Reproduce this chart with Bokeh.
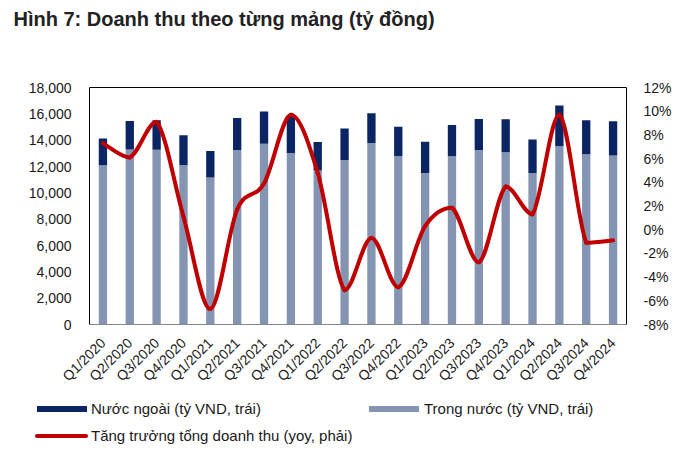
from bokeh.plotting import figure
from bokeh.layouts import column
from bokeh.models import (Range1d, LinearAxis, FixedTicker, Div,
                          NumeralTickFormatter, CustomJSTickFormatter)
from bokeh.embed import file_html
from bokeh.resources import INLINE
import math

categories = ["Q1/2020", "Q2/2020", "Q3/2020", "Q4/2020", "Q1/2021", "Q2/2021", "Q3/2021",
              "Q4/2021", "Q1/2022", "Q2/2022", "Q3/2022", "Q4/2022", "Q1/2023", "Q2/2023",
              "Q3/2023", "Q4/2023", "Q1/2024", "Q2/2024", "Q3/2024", "Q4/2024"]
domestic = [12100, 13300, 13280, 12120, 11170, 13250, 13730, 13030, 11700, 12500,
            13780, 12800, 11500, 12780, 13250, 13080, 11500, 13530, 12930, 12830]
total = [14130, 15460, 15510, 14380, 13180, 15690, 16170, 15900, 13860, 14880,
         16040, 15010, 13880, 15160, 15610, 15590, 14060, 16640, 15510, 15440]
growth = [7.3, 6.1, 9.1, 1.1, -6.7, 1.7, 3.9, 9.7, 4.8, -5.1,
          -0.7, -4.85, 0.3, 1.85, -2.75, 3.65, 1.3, 9.7, -1.1, -0.9]

left_ticks = list(range(0, 18001, 2000))
right_ticks = list(range(-8, 13, 2))
legend_labels = ["Nước ngoài (tỷ VND, trái)", "Trong nước (tỷ VND, trái)",
                 "Tăng trưởng tổng doanh thu (yoy, phải)"]

FONT = "Liberation Sans"
NAVY = "#0B2463"
SLATE = "#8494B3"
RED = "#C00000"
TXT = "#1a1a1a"

xs = list(range(1, len(categories) + 1))

W = 680
TH = 40            # title strip height
FRAME_LEFT = 89    # page x of the plot frame's left edge

# ---- title strip ----
t = figure(width=W, height=TH, output_backend="svg", toolbar_location=None,
           x_axis_type=None, y_axis_type=None, min_border=0,
           x_range=Range1d(0, 1), y_range=Range1d(0, 1),
           title="Hình 7: Doanh thu theo từng mảng (tỷ đồng)")
t.outline_line_color = None
t.grid.visible = False
t.title.text_font = FONT
t.title.text_font_size = "20px"
t.title.text_font_style = "bold"
t.title.text_color = "#222222"
t.title.offset = 13 - FRAME_LEFT
t.title.standoff = 10

# ---- main chart ----
H = 352
p = figure(width=W, height=H, output_backend="svg", toolbar_location=None,
           x_range=Range1d(0.5, len(categories) + 0.5),
           y_range=Range1d(0, 18000),
           min_border_left=FRAME_LEFT, min_border_right=W - 626, min_border_top=87 - TH,
           min_border_bottom=H - (326 - TH), title=None)

p.extra_y_ranges = {"pct": Range1d(-8, 12)}

p.grid.visible = False
p.outline_line_color = "black"
p.outline_line_width = 1
p.background_fill_color = "white"
p.border_fill_color = "white"

r_dom = p.vbar(x=xs, top=domestic, bottom=0, width=0.31, fill_color=SLATE, line_color=None)
r_for = p.vbar(x=xs, top=total, bottom=domestic, width=0.31, fill_color=NAVY, line_color=None)

# smooth curve through the growth points, drawn as bezier segments
# (control points kept within each segment's value span to avoid overshoot)
n = len(growth)
x0, y0, x1, y1, cx0, cy0, cx1, cy1 = [], [], [], [], [], [], [], []
for i in range(n - 1):
    ip = max(i - 1, 0)
    inx = min(i + 2, n - 1)
    lo = min(growth[i], growth[i + 1])
    hi = max(growth[i], growth[i + 1])
    x0.append(xs[i]); y0.append(growth[i])
    x1.append(xs[i + 1]); y1.append(growth[i + 1])
    cx0.append(xs[i] + (xs[i + 1] - xs[ip]) / 6.0)
    cy0.append(min(hi, max(lo, growth[i] + (growth[i + 1] - growth[ip]) / 6.0)))
    cx1.append(xs[i + 1] - (xs[inx] - xs[i]) / 6.0)
    cy1.append(min(hi, max(lo, growth[i + 1] - (growth[inx] - growth[i]) / 6.0)))
r_line = p.bezier(x0=x0, y0=y0, x1=x1, y1=y1, cx0=cx0, cy0=cy0, cx1=cx1, cy1=cy1,
                  line_color=RED, line_width=4, line_cap="round", y_range_name="pct")

# axes
xa = p.xaxis[0]
xa.ticker = FixedTicker(ticks=xs)
xa.major_label_overrides = {i: c for i, c in zip(xs, categories)}
xa.major_label_orientation = math.pi / 4
xa.major_tick_line_color = None
xa.minor_tick_line_color = None
xa.axis_line_color = "#888888"
xa.major_label_text_font = FONT
xa.major_label_text_font_size = "14px"
xa.major_label_text_color = TXT
xa.major_label_standoff = 10

ya = p.yaxis[0]
ya.ticker = FixedTicker(ticks=left_ticks)
ya.formatter = NumeralTickFormatter(format="0,0")
ya.major_tick_line_color = None
ya.minor_tick_line_color = None
ya.axis_line_color = None
ya.major_label_text_font = FONT
ya.major_label_text_font_size = "14px"
ya.major_label_text_color = TXT
ya.major_label_standoff = 12

ra = LinearAxis(y_range_name="pct", ticker=FixedTicker(ticks=right_ticks),
                formatter=CustomJSTickFormatter(code="return tick + '%';"))
ra.major_tick_line_color = None
ra.minor_tick_line_color = None
ra.axis_line_color = None
ra.major_label_text_font = FONT
ra.major_label_text_font_size = "14px"
ra.major_label_text_color = TXT
ra.major_label_standoff = 11
p.add_layout(ra, "right")

# ---- legend strip (HTML) ----
LH = 58
entries = [
    # (swatch left, swatch top, swatch width, swatch height, colour, text left, text top, label)
    (37, 14, 50, 6, NAVY, 91, 8, legend_labels[0]),
    (369, 14, 50, 6, SLATE, 424, 8, legend_labels[1]),
    (35, 42, 53, 4, RED, 91, 35, legend_labels[2]),
]
parts = []
for sl, st, sw, sh, col, tl, tt, lab in entries:
    radius = "2px" if col == RED else "0"
    parts.append(f'<div style="position:absolute;left:{sl}px;top:{st}px;width:{sw}px;'
                 f'height:{sh}px;background:{col};border-radius:{radius}"></div>')
    parts.append(f'<div style="position:absolute;left:{tl}px;top:{tt}px;line-height:18px;'
                 f'white-space:nowrap">{lab}</div>')
html = (f'<div style="position:relative;width:{W}px;height:{LH}px;'
        f'font-family:\'{FONT}\';font-size:15px;color:{TXT}">' + "".join(parts) + "</div>")
q = Div(text=html, width=W, height=LH, margin=(0, 0, 0, 0))

layout = column(t, p, q, spacing=0)
open("out.html", "w").write(file_html(layout, INLINE))
